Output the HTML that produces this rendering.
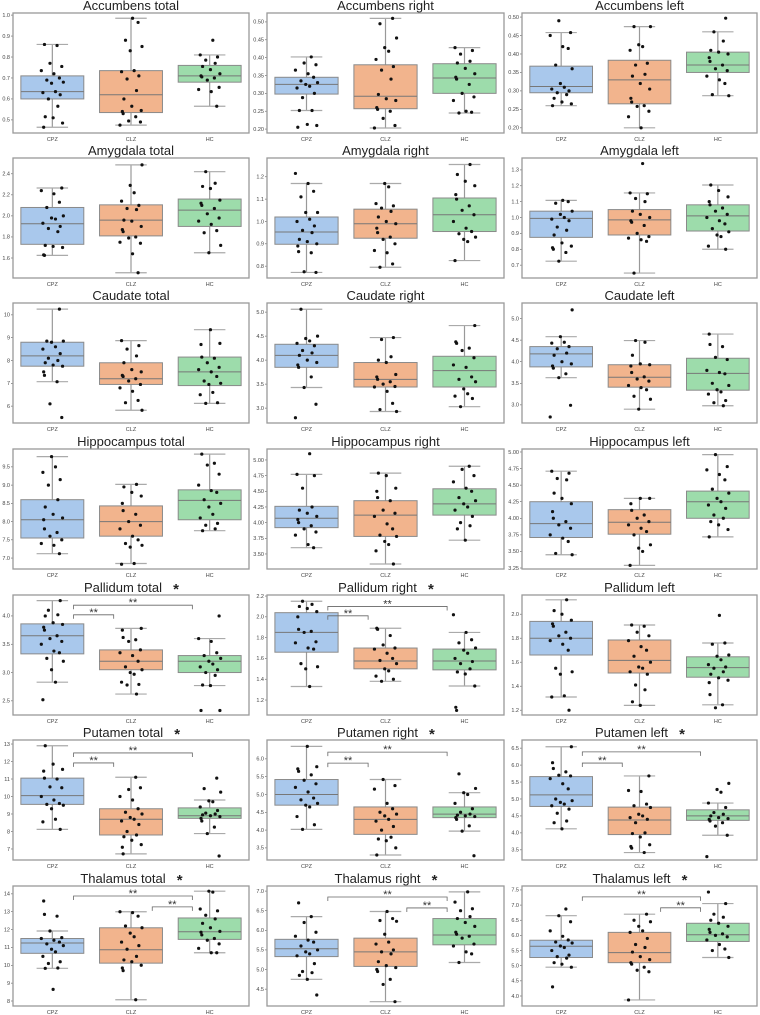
<!DOCTYPE html>
<html><head><meta charset="utf-8"><style>
html,body{margin:0;padding:0;background:#fff;}
svg{display:block;font-family:"Liberation Sans",sans-serif;}
</style></head><body>
<svg id="fig" width="760" height="1015" viewBox="0 0 760 1015" xmlns="http://www.w3.org/2000/svg"></svg>
<script>
const categories = ["CPZ","CLZ","HC"];
const panelTitles = ["Accumbens total","Accumbens right","Accumbens left","Amygdala total","Amygdala right","Amygdala left","Caudate total","Caudate right","Caudate left","Hippocampus total","Hippocampus right","Hippocampus left","Pallidum total","Pallidum right","Pallidum left","Putamen total","Putamen right","Putamen left","Thalamus total","Thalamus right","Thalamus left"];
const panelStars = [0,0,0,0,0,0,0,0,0,0,0,0,1,1,0,1,1,1,1,1,1];
const panelYlim = [[0.4375,1.01],[0.189,0.525],[0.186,0.511],[1.41,2.55],[0.747,1.284],[0.619,1.375],[5.26,10.52],[2.69,5.19],[2.58,5.36],[6.70,9.99],[3.26,5.175],[3.235,5.045],[2.25,4.37],[1.056,2.21],[1.16,2.16],[6.37,13.23],[3.16,6.53],[3.2,6.74],[7.72,14.44],[4.07,7.13],[3.67,7.63]];
const panelTicks = [[0.5,0.6,0.7,0.8,0.9,1.0],[0.2,0.25,0.3,0.35,0.4,0.45,0.5],[0.2,0.25,0.3,0.35,0.4,0.45,0.5],[1.6,1.8,2.0,2.2,2.4],[0.8,0.9,1.0,1.1,1.2],[0.7,0.8,0.9,1.0,1.1,1.2,1.3],[6,7,8,9,10],[3.0,3.5,4.0,4.5,5.0],[3.0,3.5,4.0,4.5,5.0],[7.0,7.5,8.0,8.5,9.0,9.5],[3.5,3.75,4.0,4.25,4.5,4.75,5.0],[3.25,3.5,3.75,4.0,4.25,4.5,4.75,5.0],[2.5,3.0,3.5,4.0],[1.2,1.4,1.6,1.8,2.0,2.2],[1.2,1.4,1.6,1.8,2.0],[7,8,9,10,11,12,13],[3.5,4.0,4.5,5.0,5.5,6.0],[3.5,4.0,4.5,5.0,5.5,6.0,6.5],[8,9,10,11,12,13,14],[4.5,5.0,5.5,6.0,6.5,7.0],[4.0,4.5,5.0,5.5,6.0,6.5,7.0,7.5]];
const tickDecimals = [1,2,2,1,1,1,0,1,1,1,2,2,1,1,1,0,1,1,0,1,1];
// box stats per group: [q1, median, q3, whiskerLow, whiskerHigh]
const boxStats = [
 [[.60,.635,.71,.465,.86],[.535,.62,.735,.475,.985],[.68,.71,.76,.565,.81]],
 [[.298,.325,.345,.252,.402],[.257,.292,.38,.203,.51],[.30,.343,.383,.245,.428]],
 [[.295,.312,.367,.26,.458],[.265,.33,.383,.2,.474],[.35,.37,.405,.287,.46]],
 [[1.73,1.925,2.08,1.625,2.265],[1.81,1.96,2.105,1.46,2.485],[1.90,2.055,2.16,1.65,2.42]],
 [[.898,.953,1.02,.772,1.17],[.925,.99,1.055,.795,1.17],[.955,1.03,1.105,.825,1.255]],
 [[.875,.995,1.04,.725,1.108],[.89,.985,1.05,.65,1.155],[.915,1.01,1.08,.80,1.205]],
 [[7.75,8.2,8.8,7.07,10.25],[6.95,7.2,7.9,5.82,8.87],[6.9,7.5,8.15,6.12,9.35]],
 [[3.85,4.1,4.33,3.43,5.06],[3.44,3.6,3.95,2.93,4.47],[3.44,3.78,4.08,3.03,4.72]],
 [[3.88,4.18,4.35,3.63,4.58],[3.41,3.64,3.93,2.9,4.49],[3.34,3.73,4.08,2.98,4.64]],
 [[7.55,8.05,8.6,7.12,9.78],[7.6,8.0,8.43,6.85,9.02],[8.05,8.58,8.87,7.75,9.85]],
 [[3.92,4.07,4.26,3.6,4.77],[3.78,4.12,4.35,3.34,4.79],[4.12,4.30,4.54,3.72,4.9]],
 [[3.71,3.92,4.25,3.45,4.71],[3.76,3.94,4.13,3.29,4.30],[4.0,4.25,4.41,3.72,4.96]],
 [[3.33,3.65,3.86,2.83,4.27],[3.05,3.2,3.4,2.62,3.78],[3.0,3.2,3.3,2.77,3.6]],
 [[1.66,1.85,2.04,1.33,2.15],[1.5,1.575,1.70,1.38,1.89],[1.49,1.575,1.69,1.335,1.85]],
 [[1.66,1.80,1.94,1.31,2.12],[1.51,1.615,1.785,1.24,1.91],[1.475,1.555,1.645,1.245,1.76]],
 [[9.55,10.05,11.05,8.12,12.9],[7.8,8.7,9.3,6.72,11.1],[8.75,8.9,9.35,7.88,9.8]],
 [[4.7,5.0,5.42,4.02,6.35],[3.88,4.3,4.65,3.3,5.42],[4.35,4.45,4.65,3.97,5.05]],
 [[4.78,5.12,5.66,4.12,6.54],[3.95,4.38,4.76,3.42,5.68],[4.37,4.5,4.68,3.93,4.88]],
 [[10.67,11.25,11.5,9.83,11.92],[10.12,10.87,12.1,8.07,13.0],[11.45,11.88,12.65,10.7,14.15]],
 [[5.33,5.53,5.77,4.75,6.35],[5.08,5.45,5.8,4.18,6.48],[5.63,5.88,6.3,5.18,6.98]],
 [[5.27,5.64,5.84,4.95,6.65],[5.1,5.43,6.1,3.87,6.7],[5.8,6.02,6.4,5.27,7.05]]
];
const pointVals = [
 [[.86,.855,.77,.755,.735,.72,.70,.69,.68,.675,.635,.63,.62,.60,.565,.515,.51,.485,.465],[.985,.965,.88,.85,.83,.735,.73,.71,.695,.64,.60,.565,.545,.54,.53,.515,.495,.49,.475],[.88,.81,.80,.785,.77,.755,.74,.72,.71,.705,.70,.69,.655,.645,.635,.565]],
 [[.402,.385,.38,.365,.355,.345,.335,.33,.325,.32,.315,.30,.288,.252,.252,.213,.21,.205],[.51,.495,.455,.428,.418,.395,.375,.365,.34,.297,.285,.28,.26,.255,.25,.23,.21,.203],[.428,.42,.41,.39,.385,.37,.355,.345,.34,.325,.30,.29,.28,.25,.247,.245]],
 [[.49,.458,.45,.42,.415,.37,.36,.32,.31,.305,.30,.295,.29,.28,.27,.265,.26],[.474,.474,.425,.42,.41,.375,.37,.345,.34,.32,.305,.28,.27,.26,.258,.245,.23,.2],[.497,.46,.435,.41,.405,.40,.39,.38,.37,.36,.355,.34,.33,.32,.29,.287]],
 [[2.265,2.24,2.21,2.13,2.08,2.0,1.98,1.97,1.93,1.9,1.88,1.85,1.72,1.71,1.7,1.63,1.625],[2.485,2.29,2.22,2.14,2.1,2.07,2.06,1.96,1.95,1.9,1.87,1.85,1.8,1.79,1.74,1.75,1.64,1.46],[2.42,2.31,2.28,2.26,2.15,2.12,2.1,2.07,2.02,1.98,1.95,1.92,1.86,1.84,1.72,1.65]],
 [[1.215,1.17,1.135,1.11,1.04,1.04,1.01,1.0,.98,.96,.95,.92,.91,.90,.89,.865,.86,.775,.772],[1.17,1.155,1.08,1.07,1.06,1.045,1.02,1.0,.99,.97,.95,.93,.92,.9,.87,.86,.81,.795],[1.255,1.21,1.18,1.16,1.12,1.1,1.07,1.05,1.03,1.0,.97,.955,.945,.93,.92,.91,.825]],
 [[1.108,1.1,1.09,1.04,1.02,1.0,.99,.98,.94,.92,.89,.84,.82,.81,.8,.78,.725],[1.34,1.155,1.15,1.12,1.1,1.04,1.02,1.0,.98,.97,.95,.9,.88,.87,.86,.85,.65],[1.205,1.17,1.13,1.1,1.08,1.06,1.04,1.02,1.0,.98,.96,.93,.91,.89,.88,.82,.80]],
 [[10.25,8.85,8.85,8.8,8.6,8.5,8.3,8.1,8.0,7.9,7.8,7.75,7.5,7.35,7.07,6.1,5.5],[8.87,8.65,8.5,8.2,7.9,7.6,7.5,7.35,7.3,7.2,7.1,6.95,6.8,6.65,6.25,6.15,5.82],[9.35,8.75,8.7,8.15,8.1,7.9,7.7,7.6,7.5,7.3,7.1,7.0,6.95,6.6,6.5,6.15,6.12]],
 [[5.06,4.5,4.45,4.4,4.35,4.3,4.2,4.15,4.1,4.0,3.95,3.9,3.85,3.65,3.43,3.08,2.8],[4.47,4.43,4.07,4.0,3.95,3.7,3.65,3.6,3.55,3.5,3.45,3.44,3.35,3.1,2.97,2.93],[4.72,4.38,4.35,4.25,4.2,4.05,3.9,3.85,3.65,3.6,3.55,3.4,3.3,3.25,3.2,3.03]],
 [[5.2,4.58,4.45,4.43,4.35,4.3,4.2,4.15,4.0,3.95,3.9,3.85,3.72,3.63,2.99,2.72],[4.49,4.45,4.15,3.95,3.93,3.9,3.75,3.65,3.6,3.55,3.45,3.4,3.35,3.2,3.13,2.9],[4.64,4.4,4.35,4.1,4.05,3.8,3.75,3.72,3.5,3.45,3.35,3.3,3.25,3.1,3.05,2.98]],
 [[9.78,9.5,9.35,9.15,9.0,8.6,8.4,8.2,8.1,8.05,7.8,7.7,7.6,7.5,7.4,7.35,7.12],[9.02,8.95,8.8,8.7,8.5,8.3,8.2,8.0,7.9,7.8,7.6,7.5,7.4,7.35,7.3,6.85,6.83],[9.85,9.6,9.55,9.3,9.0,8.85,8.8,8.6,8.5,8.4,8.2,8.1,7.95,7.9,7.8,7.75]],
 [[5.1,4.77,4.75,4.55,4.25,4.2,4.15,4.1,4.05,4.0,3.95,3.9,3.85,3.8,3.65,3.6],[4.79,4.75,4.55,4.5,4.4,4.35,4.2,4.15,4.1,3.98,3.9,3.8,3.78,3.7,3.65,3.55,3.34],[4.9,4.85,4.75,4.65,4.55,4.5,4.4,4.35,4.3,4.25,4.2,4.1,4.0,3.95,3.9,3.72]],
 [[4.71,4.68,4.6,4.58,4.38,4.3,4.22,4.1,4.0,3.95,3.9,3.85,3.75,3.7,3.65,3.47,3.45],[4.3,4.3,4.22,4.12,4.05,4.0,3.95,3.9,3.85,3.8,3.75,3.6,3.55,3.5,3.29],[4.96,4.78,4.73,4.66,4.58,4.44,4.38,4.3,4.25,4.2,4.15,4.05,4.0,3.95,3.9,3.83,3.72]],
 [[4.27,4.1,4.02,4.0,3.88,3.85,3.8,3.75,3.65,3.6,3.55,3.5,3.38,3.35,3.25,3.2,3.05,2.83,2.52],[3.78,3.75,3.62,3.58,3.55,3.4,3.35,3.3,3.2,3.1,3.05,3.0,2.97,2.83,2.79,2.78,2.62],[4.0,3.6,3.55,3.35,3.3,3.25,3.2,3.15,3.1,3.05,3.0,2.95,2.78,2.77,2.33,2.33]],
 [[2.15,2.12,2.1,2.08,2.05,2.0,1.88,1.86,1.85,1.76,1.75,1.7,1.69,1.55,1.52,1.5,1.33],[1.89,1.88,1.82,1.73,1.7,1.69,1.65,1.6,1.58,1.55,1.5,1.48,1.43,1.4,1.38],[2.02,1.85,1.78,1.75,1.7,1.68,1.65,1.6,1.57,1.55,1.5,1.47,1.45,1.335,1.13,1.1]],
 [[2.12,2.03,2.0,1.95,1.92,1.9,1.85,1.82,1.8,1.78,1.75,1.7,1.55,1.52,1.5,1.32,1.31,1.2],[1.91,1.9,1.85,1.82,1.78,1.73,1.7,1.65,1.6,1.56,1.55,1.52,1.5,1.41,1.37,1.27,1.24],[1.99,1.76,1.75,1.66,1.65,1.62,1.58,1.56,1.55,1.52,1.5,1.47,1.45,1.43,1.33,1.245,1.22]],
 [[12.9,11.85,11.55,11.45,11.05,11.0,10.55,10.5,10.0,9.8,9.6,9.55,9.5,9.3,8.7,8.55,8.12],[11.1,10.4,10.5,10.0,9.8,9.3,9.1,9.0,8.8,8.7,8.6,8.4,8.0,7.8,7.7,7.5,7.25,7.1,6.72],[11.05,10.45,10.25,9.75,9.7,9.4,9.2,9.05,9.0,8.95,8.9,8.85,8.75,8.6,8.25,7.88,6.6]],
 [[6.35,5.78,5.72,5.65,5.55,5.4,5.3,5.2,5.07,4.9,4.85,4.75,4.7,4.65,4.38,4.15,4.02],[5.42,5.25,5.15,4.75,4.6,4.5,4.45,4.4,4.3,4.25,4.1,4.0,3.8,3.75,3.7,3.5,3.3],[5.58,5.17,5.05,5.0,4.75,4.6,4.5,4.45,4.42,4.4,4.38,4.35,4.3,4.12,3.97,3.28]],
 [[6.54,6.07,5.9,5.8,5.7,5.68,5.6,5.45,5.3,5.0,4.95,4.9,4.85,4.8,4.7,4.58,4.35,4.3,4.12],[5.68,5.25,5.22,4.85,4.8,4.75,4.55,4.5,4.45,4.4,4.3,4.0,3.98,3.88,3.65,3.6,3.55,3.42],[5.46,5.28,5.2,4.88,4.75,4.6,4.55,4.5,4.45,4.42,4.4,4.35,4.3,4.2,3.93,3.3]],
 [[13.6,12.85,12.75,11.92,11.55,11.5,11.4,11.3,11.2,11.1,10.9,10.75,10.5,10.2,10.1,9.85,9.83,8.65],[13.0,12.95,12.75,12.2,12.1,11.8,11.6,11.3,11.1,10.9,10.5,10.3,10.2,10.0,9.85,9.7,8.07],[14.15,14.1,13.15,13.05,12.8,12.6,12.35,12.1,11.9,11.85,11.7,11.5,11.4,11.2,10.95,10.7,10.7]],
 [[6.7,6.35,6.2,5.95,5.85,5.75,5.7,5.6,5.5,5.45,5.4,5.35,5.15,4.95,4.92,4.85,4.75,4.35],[6.48,6.3,6.25,6.23,5.9,5.7,5.65,5.5,5.45,5.4,5.2,5.1,5.05,5.0,4.95,4.75,4.62,4.18],[6.98,6.72,6.55,6.5,6.35,6.3,6.2,6.1,5.95,5.9,5.85,5.8,5.65,5.6,5.45,5.4,5.18]],
 [[6.87,6.65,6.45,6.15,5.97,5.85,5.78,5.75,5.65,5.6,5.5,5.35,5.3,5.25,5.1,5.05,4.95,4.3],[6.7,6.5,6.45,6.3,6.15,6.1,5.9,5.7,5.6,5.45,5.3,5.2,5.1,5.05,4.95,4.85,4.8,3.87],[7.43,7.05,6.7,6.6,6.5,6.4,6.3,6.2,6.1,6.05,6.0,5.95,5.85,5.7,5.55,5.5,5.27]]
];
// significance brackets: [panelIndex, groupA, groupB, yValue]
const brackets = [[12,0,1,4.02],[12,0,2,4.19],[13,0,1,2.01],[13,0,2,2.10],[15,0,1,11.92],[15,0,2,12.49],[16,0,1,5.88],[16,0,2,6.19],[17,0,1,6.06],[17,0,2,6.39],[18,0,2,13.88],[18,1,2,13.27],[19,0,2,6.85],[19,1,2,6.57],[20,0,2,7.27],[20,1,2,6.91]];

const NS = "http://www.w3.org/2000/svg";
const svg = document.getElementById("fig");
const colX = [[13,249],[267,504],[522,757]];
const rowTop = [13,158,303,449,595,740,886];
const plotH = 120;
const fills = ["#a9c8ec","#f2b48d","#9ddcab"];
const jit = [-0.1,0.06,-0.03,0.12,-0.14,0.02,0.09,-0.07,0.14,-0.01,0.04,-0.12,0.1,-0.05,0.07,-0.09,0.01,0.13,-0.11];
function mk(tag, attrs, parent){const e=document.createElementNS(NS,tag);for(const k in attrs)e.setAttribute(k,attrs[k]);(parent||svg).appendChild(e);return e;}

panelTitles.forEach((title,p)=>{
  const r=Math.floor(p/3), c=p%3;
  const x0=colX[c][0], x1=colX[c][1], y0=rowTop[r], y1=y0+plotH;
  const [lo,hi]=panelYlim[p];
  const ys=v=>y1-(v-lo)/(hi-lo)*plotH;
  const cw=(x1-x0)/3;
  const xc=i=>x0+cw*(i+0.5);
  const g=mk("g",{});
  
  
  const t=mk("text",{x:(x0+x1)/2-(panelStars[p]?8:0),y:y0-3,"text-anchor":"middle","font-size":"13","fill":"#222"},g);
  t.textContent=title;
  
  
  if(panelStars[p]){
    const w=t.getComputedTextLength();
    const s=mk("text",{x:(x0+x1)/2-8+w/2+14,y:y0-1,"text-anchor":"middle","font-size":"15","font-weight":"bold","fill":"#222"},g);
    s.textContent="*";
    
    
  }
  panelTicks[p].forEach(v=>{
    const y=ys(v);
    mk("line",{x1:x0-2,x2:x0,y1:y,y2:y,stroke:"#555","stroke-width":"0.6"},g);
    const tl=mk("text",{x:x0-3,y:y+1.8,"text-anchor":"end","font-size":"5.5","fill":"#444"},g);
    tl.textContent=v.toFixed(tickDecimals[p]);
    
    
  });
  categories.forEach((cat,i)=>{
    const [q1,md,q3,wl,wh]=boxStats[p][i];
    const cx=xc(i), bw=cw*0.8, capw=cw*0.4;
    mk("line",{x1:cx,x2:cx,y1:ys(wh),y2:ys(q3),stroke:"#999","stroke-width":"1.2"},g);
    mk("line",{x1:cx,x2:cx,y1:ys(q1),y2:ys(wl),stroke:"#999","stroke-width":"1.2"},g);
    mk("line",{x1:cx-capw/2,x2:cx+capw/2,y1:ys(wh),y2:ys(wh),stroke:"#aaa","stroke-width":"1.2"},g);
    mk("line",{x1:cx-capw/2,x2:cx+capw/2,y1:ys(wl),y2:ys(wl),stroke:"#aaa","stroke-width":"1.2"},g);
    const b=mk("rect",{x:cx-bw/2,y:ys(q3),width:bw,height:ys(q1)-ys(q3),fill:fills[i],stroke:"#8a8a8a","stroke-width":"1"},g);
    
    
    mk("line",{x1:cx-bw/2,x2:cx+bw/2,y1:ys(md),y2:ys(md),stroke:"#777","stroke-width":"1"},g);
    pointVals[p][i].forEach((v,k)=>{
      const d=mk("circle",{cx:cx+jit[(k+i*5+p)%jit.length]*cw,cy:ys(v),r:1.6,fill:"#111"},g);
      
      
    });
    const xl=mk("text",{x:cx,y:y1+8,"text-anchor":"middle","font-size":"5.5","fill":"#444"},g);
    xl.textContent=cat;
    
    
  });
  const fr=mk("rect",{x:x0,y:y0,width:x1-x0,height:plotH,fill:"none",stroke:"#999","stroke-width":"1.3"},g);
  
  
  brackets.filter(b=>b[0]===p).forEach(b=>{
    const xa=xc(b[1])+cw*0.27, xb=xc(b[2])-cw*0.22, y=ys(b[3]);
    const br=mk("path",{d:`M${xa},${y+4}V${y}H${xb}V${y+4}`,fill:"none",stroke:"#666","stroke-width":"0.8"},g);
    
    
    const st=mk("text",{x:(xa+xb)/2,y:y+1,"text-anchor":"middle","font-size":"11","fill":"#333"},g);
    st.textContent="**";
    
    
  });
});
</script>
</body></html>
